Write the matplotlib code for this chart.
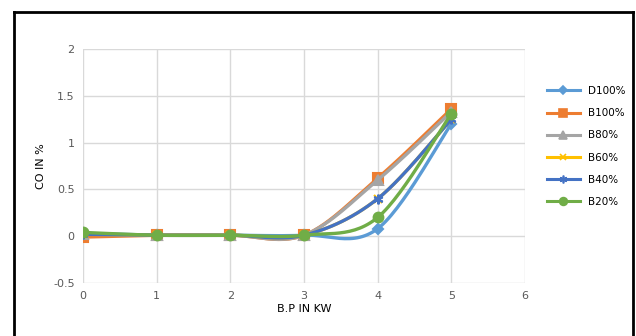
import numpy as np
import matplotlib.pyplot as plt
from matplotlib.lines import Line2D

bp = [0, 1, 2, 3, 4, 5]
d100 = [0.03, 0.01, 0.01, 0.01, 0.08, 1.20]
b100 = [-0.01, 0.01, 0.01, 0.01, 0.62, 1.36]
b80 = [0.02, 0.01, 0.01, 0.01, 0.60, 1.33]
b60 = [0.02, 0.01, 0.01, 0.01, 0.40, 1.25]
b40 = [0.02, 0.01, 0.01, 0.01, 0.40, 1.25]
b20 = [0.04, 0.01, 0.01, 0.01, 0.20, 1.31]
labels = ["D100%", "B100%", "B80%", "B60%", "B40%", "B20%"]


def smooth(x, y, n=30):
    # Catmull-Rom style curve, like Excel "smoothed line"
    x = np.asarray(x, float)
    y = np.asarray(y, float)
    px = np.concatenate(([x[0]], x, [x[-1]]))
    py = np.concatenate(([y[0]], y, [y[-1]]))
    xs, ys = [], []
    t = np.linspace(0, 1, n)
    for i in range(1, len(px) - 2):
        p0, p1, p2, p3 = px[i-1], px[i], px[i+1], px[i+2]
        q0, q1, q2, q3 = py[i-1], py[i], py[i+1], py[i+2]
        c1x, c1y = p1 + (p2 - p0) / 6, q1 + (q2 - q0) / 6
        c2x, c2y = p2 - (p3 - p1) / 6, q2 - (q3 - q1) / 6
        bx = (1-t)**3*p1 + 3*(1-t)**2*t*c1x + 3*(1-t)*t**2*c2x + t**3*p2
        by = (1-t)**3*q1 + 3*(1-t)**2*t*c1y + 3*(1-t)*t**2*c2y + t**3*q2
        xs.append(bx)
        ys.append(by)
    return np.concatenate(xs), np.concatenate(ys)


fig = plt.figure(figsize=(6.36, 3.36), dpi=100)
ax = fig.add_axes([0.1305, 0.158, 0.695, 0.696])

series = [d100, b100, b80, b60, b40, b20]
colors = ["#5B9BD5", "#ED7D31", "#A5A5A5", "#FFC000", "#4472C4", "#70AD47"]
markers = ["D", "s", "^", "x", (6, 2, 0), "o"]
msizes = [5, 7, 7, 6, 7, 7]
handles = []
for vals, c, m, ms, lab in zip(series, colors, markers, msizes, labels):
    sx, sy = smooth(bp, vals)
    ax.plot(sx, sy, color=c, lw=2.4, solid_capstyle="round")
    ax.plot(bp, vals, ls="none", marker=m, color=c, ms=ms, mew=1.5)
    handles.append(Line2D([], [], color=c, lw=2.2, marker=m, ms=ms * 0.8, mew=1.2, label=lab))

ax.set_xlim(0, 6)
ax.set_ylim(-0.5, 2)
ax.set_xticks(range(0, 7))
ax.set_yticks([-0.5, 0, 0.5, 1, 1.5, 2])
ax.set_yticklabels(["-0.5", "0", "0.5", "1", "1.5", "2"])
ax.grid(True, color="#D9D9D9", lw=1)
ax.set_axisbelow(True)
for s in ax.spines.values():
    s.set_visible(False)
ax.tick_params(length=0, labelsize=8, colors="#595959", pad=6)
ax.set_xlabel("B.P IN KW", fontsize=8, labelpad=2)
ax.set_ylabel("CO IN %", fontsize=8, labelpad=5)

leg = fig.legend(handles=handles, loc="upper left", bbox_to_anchor=(0.845, 0.772),
                 frameon=False, fontsize=7.5, handlelength=3.2, labelspacing=1.17)

# chart frame
fig.add_artist(Line2D([0.022, 0.022], [0, 0.965], color="black", lw=2, transform=fig.transFigure))
fig.add_artist(Line2D([0.022, 0.996], [0.965, 0.965], color="black", lw=2, transform=fig.transFigure))
fig.add_artist(Line2D([0.996, 0.996], [0, 0.965], color="black", lw=2, transform=fig.transFigure))

fig.savefig("out.png", dpi=100)
